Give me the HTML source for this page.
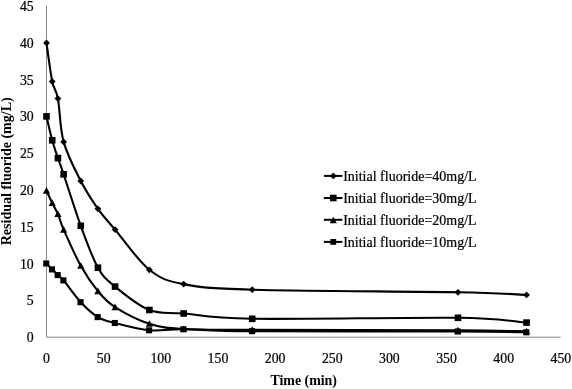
<!DOCTYPE html>
<html><head><meta charset="utf-8"><title>Residual fluoride vs time</title>
<style>
html,body{margin:0;padding:0;background:#fff;}
body{width:572px;height:389px;overflow:hidden;}
svg{display:block;font-family:"Liberation Serif","Times New Roman",serif;}
</style></head><body>
<svg width="572" height="389" viewBox="0 0 572 389">
<rect width="572" height="389" fill="#fff"/>
<g stroke="#868686" stroke-width="1" fill="none"><path d="M46.5 5.5 V337.2 H560.7"/></g>
<g fill="none" stroke="#000" stroke-width="2.1" stroke-linecap="round" stroke-linejoin="round">
<path d="M46.50 42.90 C47.45 49.32 50.31 72.12 52.22 81.40 C54.12 90.68 56.02 88.52 57.93 98.60 C59.84 108.68 59.83 128.17 63.64 141.90 C67.45 155.63 75.07 169.85 80.79 181.00 C86.50 192.15 92.22 200.70 97.94 208.80 C103.65 216.90 106.51 219.43 115.08 229.60 C123.65 239.77 137.94 260.72 149.37 269.80 C160.80 278.88 166.51 280.78 183.66 284.10 C200.81 287.42 206.52 288.33 252.24 289.70 C297.96 291.07 412.26 291.43 457.98 292.30 C503.70 293.17 515.13 294.47 526.56 294.90"/>
<path d="M46.50 116.40 C47.45 120.38 50.31 133.35 52.22 140.30 C54.12 147.25 56.02 152.43 57.93 158.10 C59.84 163.77 59.83 163.02 63.64 174.30 C67.45 185.58 75.07 210.23 80.79 225.80 C86.50 241.37 92.22 257.57 97.94 267.70 C103.65 277.83 106.51 279.55 115.08 286.60 C123.65 293.65 137.94 305.52 149.37 310.00 C160.80 314.48 166.51 312.03 183.66 313.50 C200.81 314.97 206.52 318.08 252.24 318.80 C297.96 319.52 412.26 317.17 457.98 317.80 C503.70 318.43 515.13 321.80 526.56 322.60"/>
<path d="M46.50 190.60 C47.45 192.67 50.31 199.10 52.22 203.00 C54.12 206.90 56.02 209.57 57.93 214.00 C59.84 218.43 59.83 220.97 63.64 229.60 C67.45 238.23 75.07 255.55 80.79 265.80 C86.50 276.05 92.22 284.22 97.94 291.10 C103.65 297.98 106.51 301.65 115.08 307.10 C123.65 312.55 137.94 320.15 149.37 323.80 C160.80 327.45 166.51 327.98 183.66 329.00 C200.81 330.02 206.52 329.67 252.24 329.90 C297.96 330.13 412.26 330.17 457.98 330.40 C503.70 330.63 515.13 331.15 526.56 331.30"/>
<path d="M46.50 263.50 C47.45 264.48 50.31 267.47 52.22 269.40 C54.12 271.33 56.02 273.27 57.93 275.10 C59.84 276.93 59.83 275.88 63.64 280.40 C67.45 284.92 75.07 296.08 80.79 302.20 C86.50 308.32 92.22 313.63 97.94 317.10 C103.65 320.57 106.51 320.80 115.08 323.00 C123.65 325.20 137.94 329.25 149.37 330.30 C160.80 331.35 166.51 329.15 183.66 329.30 C200.81 329.45 206.52 330.83 252.24 331.20 C297.96 331.57 412.26 331.32 457.98 331.50 C503.70 331.68 515.13 332.17 526.56 332.30"/>
</g>
<g fill="#000" stroke="none"><path d="M46.50 39.50 L49.90 42.90 L46.50 46.30 L43.10 42.90Z"/><path d="M52.22 78.00 L55.62 81.40 L52.22 84.80 L48.82 81.40Z"/><path d="M57.93 95.20 L61.33 98.60 L57.93 102.00 L54.53 98.60Z"/><path d="M63.64 138.50 L67.05 141.90 L63.64 145.30 L60.24 141.90Z"/><path d="M80.79 177.60 L84.19 181.00 L80.79 184.40 L77.39 181.00Z"/><path d="M97.94 205.40 L101.34 208.80 L97.94 212.20 L94.53 208.80Z"/><path d="M115.08 226.20 L118.48 229.60 L115.08 233.00 L111.68 229.60Z"/><path d="M149.37 266.40 L152.77 269.80 L149.37 273.20 L145.97 269.80Z"/><path d="M183.66 280.70 L187.06 284.10 L183.66 287.50 L180.26 284.10Z"/><path d="M252.24 286.30 L255.64 289.70 L252.24 293.10 L248.84 289.70Z"/><path d="M457.98 288.90 L461.38 292.30 L457.98 295.70 L454.58 292.30Z"/><path d="M526.56 291.50 L529.96 294.90 L526.56 298.30 L523.16 294.90Z"/><rect x="43.20" y="113.10" width="6.60" height="6.60"/><rect x="48.92" y="137.00" width="6.60" height="6.60"/><rect x="54.63" y="154.80" width="6.60" height="6.60"/><rect x="60.34" y="171.00" width="6.60" height="6.60"/><rect x="77.49" y="222.50" width="6.60" height="6.60"/><rect x="94.64" y="264.40" width="6.60" height="6.60"/><rect x="111.78" y="283.30" width="6.60" height="6.60"/><rect x="146.07" y="306.70" width="6.60" height="6.60"/><rect x="180.36" y="310.20" width="6.60" height="6.60"/><rect x="248.94" y="315.50" width="6.60" height="6.60"/><rect x="454.68" y="314.50" width="6.60" height="6.60"/><rect x="523.26" y="319.30" width="6.60" height="6.60"/><path d="M46.50 187.00 L50.10 193.66 L42.90 193.66Z"/><path d="M52.22 199.40 L55.82 206.06 L48.62 206.06Z"/><path d="M57.93 210.40 L61.53 217.06 L54.33 217.06Z"/><path d="M63.64 226.00 L67.24 232.66 L60.04 232.66Z"/><path d="M80.79 262.20 L84.39 268.86 L77.19 268.86Z"/><path d="M97.94 287.50 L101.53 294.16 L94.34 294.16Z"/><path d="M115.08 303.50 L118.68 310.16 L111.48 310.16Z"/><path d="M149.37 320.20 L152.97 326.86 L145.77 326.86Z"/><path d="M183.66 325.40 L187.26 332.06 L180.06 332.06Z"/><path d="M252.24 326.30 L255.84 332.96 L248.64 332.96Z"/><path d="M457.98 326.80 L461.58 333.46 L454.38 333.46Z"/><path d="M526.56 327.70 L530.16 334.36 L522.96 334.36Z"/><rect x="43.20" y="260.45" width="6.10" height="6.10"/><rect x="48.92" y="266.35" width="6.10" height="6.10"/><rect x="54.63" y="272.05" width="6.10" height="6.10"/><rect x="60.34" y="277.35" width="6.10" height="6.10"/><rect x="77.49" y="299.15" width="6.10" height="6.10"/><rect x="94.64" y="314.05" width="6.10" height="6.10"/><rect x="111.78" y="319.95" width="6.10" height="6.10"/><rect x="146.07" y="327.25" width="6.10" height="6.10"/><rect x="180.36" y="326.25" width="6.10" height="6.10"/><rect x="248.94" y="328.15" width="6.10" height="6.10"/><rect x="454.68" y="328.45" width="6.10" height="6.10"/><rect x="523.26" y="329.25" width="6.10" height="6.10"/></g>
<g fill="#000"><text transform="translate(33.70,342.20) scale(1,1.050)" text-anchor="end" font-size="13.80" stroke="#000" stroke-width="0.22">0</text><text transform="translate(33.70,305.40) scale(1,1.050)" text-anchor="end" font-size="13.80" stroke="#000" stroke-width="0.22">5</text><text transform="translate(33.70,268.60) scale(1,1.050)" text-anchor="end" font-size="13.80" stroke="#000" stroke-width="0.22">10</text><text transform="translate(33.70,231.80) scale(1,1.050)" text-anchor="end" font-size="13.80" stroke="#000" stroke-width="0.22">15</text><text transform="translate(33.70,195.00) scale(1,1.050)" text-anchor="end" font-size="13.80" stroke="#000" stroke-width="0.22">20</text><text transform="translate(33.70,158.20) scale(1,1.050)" text-anchor="end" font-size="13.80" stroke="#000" stroke-width="0.22">25</text><text transform="translate(33.70,121.40) scale(1,1.050)" text-anchor="end" font-size="13.80" stroke="#000" stroke-width="0.22">30</text><text transform="translate(33.70,84.60) scale(1,1.050)" text-anchor="end" font-size="13.80" stroke="#000" stroke-width="0.22">35</text><text transform="translate(33.70,47.80) scale(1,1.050)" text-anchor="end" font-size="13.80" stroke="#000" stroke-width="0.22">40</text><text transform="translate(33.70,11.00) scale(1,1.050)" text-anchor="end" font-size="13.80" stroke="#000" stroke-width="0.22">45</text><text transform="translate(46.50,363.00) scale(1,1.050)" text-anchor="middle" font-size="13.80" stroke="#000" stroke-width="0.22">0</text><text transform="translate(103.65,363.00) scale(1,1.050)" text-anchor="middle" font-size="13.80" stroke="#000" stroke-width="0.22">50</text><text transform="translate(160.80,363.00) scale(1,1.050)" text-anchor="middle" font-size="13.80" stroke="#000" stroke-width="0.22">100</text><text transform="translate(217.95,363.00) scale(1,1.050)" text-anchor="middle" font-size="13.80" stroke="#000" stroke-width="0.22">150</text><text transform="translate(275.10,363.00) scale(1,1.050)" text-anchor="middle" font-size="13.80" stroke="#000" stroke-width="0.22">200</text><text transform="translate(332.25,363.00) scale(1,1.050)" text-anchor="middle" font-size="13.80" stroke="#000" stroke-width="0.22">250</text><text transform="translate(389.40,363.00) scale(1,1.050)" text-anchor="middle" font-size="13.80" stroke="#000" stroke-width="0.22">300</text><text transform="translate(446.55,363.00) scale(1,1.050)" text-anchor="middle" font-size="13.80" stroke="#000" stroke-width="0.22">350</text><text transform="translate(503.70,363.00) scale(1,1.050)" text-anchor="middle" font-size="13.80" stroke="#000" stroke-width="0.22">400</text><text transform="translate(560.85,363.00) scale(1,1.050)" text-anchor="middle" font-size="13.80" stroke="#000" stroke-width="0.22">450</text></g>
<path d="M323.9 175.9 H342.4" stroke="#000" stroke-width="2" fill="none"/><g fill="#000"><path d="M333.30 172.50 L336.70 175.90 L333.30 179.30 L329.90 175.90Z"/></g><text transform="translate(343.20,181.20) scale(1,1.100)" text-anchor="start" font-size="14.00" stroke="#000" stroke-width="0.22">Initial fluoride=40mg/L</text><path d="M323.9 198.0 H342.4" stroke="#000" stroke-width="2" fill="none"/><g fill="#000"><rect x="330.00" y="194.70" width="6.60" height="6.60"/></g><text transform="translate(343.20,203.30) scale(1,1.100)" text-anchor="start" font-size="14.00" stroke="#000" stroke-width="0.22">Initial fluoride=30mg/L</text><path d="M323.9 219.8 H342.4" stroke="#000" stroke-width="2" fill="none"/><g fill="#000"><path d="M333.30 216.70 L336.90 223.36 L329.70 223.36Z"/></g><text transform="translate(343.20,224.90) scale(1,1.100)" text-anchor="start" font-size="14.00" stroke="#000" stroke-width="0.22">Initial fluoride=20mg/L</text><path d="M323.9 241.9 H342.4" stroke="#000" stroke-width="2" fill="none"/><g fill="#000"><rect x="330.40" y="239.00" width="5.80" height="5.80"/></g><text transform="translate(343.20,247.00) scale(1,1.100)" text-anchor="start" font-size="14.00" stroke="#000" stroke-width="0.22">Initial fluoride=10mg/L</text>
<text transform="translate(303.70,384.80) scale(1,1.000)" text-anchor="middle" font-size="13.90" font-weight="bold">Time (min)</text><text transform="translate(11.40,171.30) rotate(-90) scale(1,1.000)" text-anchor="middle" font-size="14.03" font-weight="bold">Residual fluoride (mg/L)</text>
</svg>
</body></html>
